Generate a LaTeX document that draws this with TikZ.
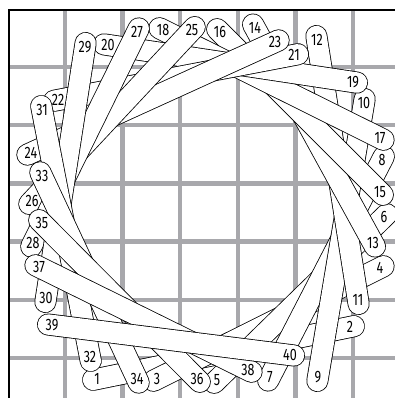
\documentclass[tikz,border=0pt]{standalone}
\usepackage{fontspec}
\newfontfamily\stripfont[FakeStretch=0.76]{Fira Sans}
\usetikzlibrary{calc}
\definecolor{gridgray}{RGB}{168,168,172}

\begin{document}
\begin{tikzpicture}[x=1pt, y=-1pt,
        gridline/.style={draw=gridgray, line width=4.5pt},
        frame/.style={draw=black, line width=1.2pt},
        stripedge/.style={draw=black, line width=22pt, line cap=round},
        stripfill/.style={draw=white, line width=20.4pt, line cap=round},
        striplabel/.style={inner sep=0pt, font=\stripfont\fontsize{16.5}{16.5}\selectfont}
    ]
    \useasboundingbox (0,0) rectangle (395,398);

    % ================= Grid and frame =================
    \foreach \x in {65,122.6,180.2,237.8,295.4,353}
        \draw[gridline] (\x,10) -- (\x,398);
    \foreach \y in {67,125.2,183.4,241.6,299.8,358}
        \draw[gridline] (9,\y) -- (395,\y);
    \draw[frame] (395,10) -- (9,10) -- (9,398);

    % ================= Strips (laid in order, each over the last) =================
    \foreach \a/\ax/\ay/\b/\bx/\by in {
        1/97/379/2/350/327,
        3/157/379/4/380/268,
        5/217/380/6/384/217,
        7/270/377/8/382/160,
        9/318/377/10/364/103,
        11/358/300/12/317/40,
        13/373/243/14/255/28,
        15/380/192/16/220/32,
        17/380/138/18/163/30,
        19/353/82/20/108/45,
        21/294/55/22/58/100,
        23/275/42/24/31/153,
        25/192/30/26/32/201,
        27/137/32/28/33/243,
        29/85/47/30/46/298,
        31/42/110/32/90/357,
        33/42/176/34/137/379,
        35/42/223/36/197/379,
        37/39/267/38/248/370,
        39/52/325/40/290/355}{
        \coordinate (e\a) at (\ax,\ay);
        \coordinate (e\b) at (\bx,\by);
        \draw[stripedge] ($(e\a)!-4pt!(e\b)$) -- ($(e\b)!-4pt!(e\a)$);
        \draw[stripfill] ($(e\a)!-4pt!(e\b)$) -- ($(e\b)!-4pt!(e\a)$);
        \node[striplabel] (n\a) at (e\a) {\a};
        \node[striplabel] (n\b) at (e\b) {\b};
    }
\end{tikzpicture}
\end{document}
